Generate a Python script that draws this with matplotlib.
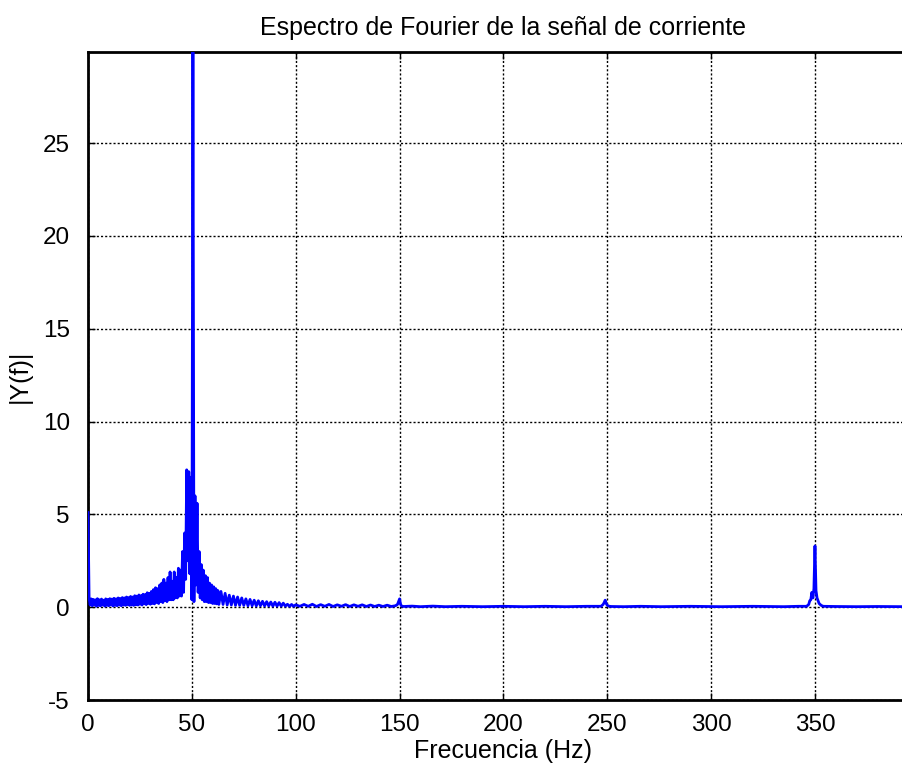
import numpy as np
from matplotlib import pyplot as plt

plt.rcParams['axes.unicode_minus'] = False

# |Y(f)|, segment by segment
low_step = 0.5   # 0 .. 40 Hz
low_vals = [5.1, 0.5, 0.12, 0.45, 0.08, 0.42, 0.12, 0.4, 0.06, 0.46,
            0.1, 0.4, 0.07, 0.44, 0.12, 0.38, 0.06, 0.45, 0.1, 0.42,
            0.08, 0.46, 0.12, 0.44, 0.07, 0.48, 0.1, 0.45, 0.08, 0.5,
            0.12, 0.47, 0.08, 0.52, 0.12, 0.5, 0.1, 0.55, 0.14, 0.52,
            0.1, 0.58, 0.12, 0.55, 0.1, 0.62, 0.14, 0.6, 0.12, 0.66,
            0.16, 0.62, 0.12, 0.7, 0.18, 0.68, 0.14, 0.78, 0.2, 0.75,
            0.16, 0.85, 0.2, 0.95, 0.18, 1.05, 0.25, 1.0, 0.2, 1.2,
            0.3, 1.3, 0.25, 1.5, 0.35, 1.3, 0.3, 1.6, 0.4, 1.9, 0.4]

peak_start = 40.5   # 40.5 .. 62 Hz, step 0.5
peak_vals = [1.4, 0.4, 1.9, 0.5, 1.6, 0.5, 2.1, 0.6, 2.0, 0.6,
             3.0, 0.8, 4.0, 1.5, 7.4, 2.5, 7.3, 1.8, 7.0, 0.4,
             29.9, 0.3, 6.0, 1.2, 5.6, 0.8, 3.0, 0.5, 2.3, 0.4,
             2.0, 0.3, 1.7, 0.3, 1.6, 0.25, 1.3, 0.25, 1.2, 0.2,
             1.1, 0.2, 1.0, 0.18, 0.9]

tail_start = 63   # 63 .. 100 Hz, step 1
tail_vals = [0.15, 0.85, 0.15, 0.75, 0.12, 0.65, 0.12, 0.6, 0.1, 0.55,
             0.1, 0.5, 0.1, 0.45, 0.08, 0.42, 0.08, 0.38, 0.07, 0.35,
             0.08, 0.32, 0.07, 0.3, 0.07, 0.28, 0.06, 0.27, 0.06, 0.25,
             0.06, 0.22, 0.06, 0.16, 0.05, 0.15, 0.05, 0.13]

# sparse part, with the 3rd, 5th and 7th harmonics
high_f = [102, 104, 106, 108, 110, 112, 114, 116, 118, 120, 122, 124,
          126, 128, 130, 132, 134, 136, 138, 140, 142, 144, 146,
          148, 149, 149.5, 150, 150.5, 151, 152,
          156, 160, 166, 172, 180, 190, 200, 210, 220, 230, 240,
          247, 248, 248.5, 249, 249.5, 250, 251, 252,
          258, 266, 276, 290, 305, 320, 335, 342,
          346, 347, 347.5, 348, 348.5, 349, 349.5, 350, 350.5, 351,
          351.5, 352, 353, 354, 360, 370, 380, 393]
high_vals = [0.05, 0.15, 0.05, 0.16, 0.04, 0.14, 0.05, 0.15, 0.04, 0.13,
             0.05, 0.14, 0.04, 0.13, 0.05, 0.13, 0.04, 0.12, 0.04, 0.11,
             0.04, 0.11, 0.04,
             0.08, 0.15, 0.3, 0.45, 0.15, 0.06, 0.04,
             0.06, 0.03, 0.06, 0.03, 0.05, 0.03, 0.05, 0.03, 0.05, 0.03, 0.05,
             0.05, 0.15, 0.25, 0.38, 0.2, 0.1, 0.05, 0.04,
             0.03, 0.05, 0.03, 0.05, 0.03, 0.05, 0.03, 0.05,
             0.05, 0.15, 0.35, 0.4, 0.8, 0.5, 1.0, 3.3, 0.9, 0.5,
             0.35, 0.2, 0.1, 0.05, 0.04, 0.03, 0.04, 0.03]

font = 'Liberation Sans'

f = np.concatenate([np.arange(len(low_vals)) * low_step,
                    peak_start + np.arange(len(peak_vals)) * 0.5,
                    tail_start + np.arange(len(tail_vals)) * 1.0,
                    np.asarray(high_f)])
y = np.concatenate([low_vals, peak_vals, tail_vals, high_vals])

fig = plt.figure(figsize=(9.03, 7.71), dpi=100)
ax = fig.add_axes([0.0975, 0.092, 0.92, 0.8405])
ax.plot(f, y, color='#0000ff', lw=2.0, zorder=3)

ax.set_xlim(0, 400)
ax.set_ylim(-5, 29.9)
ax.set_xticks(np.arange(0, 351, 50))
ax.set_yticks(np.arange(-5, 26, 5))
ax.grid(True, color='black', linestyle=(0, (1.5, 1.5)), lw=1.0)
for s in ax.spines.values():
    s.set_linewidth(2.0)
ax.tick_params(direction='in', length=5, width=1, top=True, right=True,
               labelsize=17.5)
ax.tick_params(axis='x', pad=10)
ax.tick_params(axis='y', pad=13)
for lab in ax.get_xticklabels() + ax.get_yticklabels():
    lab.set_family(font)

ax.set_title('Espectro de Fourier de la señal de corriente', fontsize=18,
             family=font, pad=12)
ax.set_xlabel('Frecuencia (Hz)', fontsize=18, family=font, labelpad=2)
ax.set_ylabel('|Y(f)|', fontsize=18, family=font, labelpad=8)

fig.savefig('out.png', dpi=100)
